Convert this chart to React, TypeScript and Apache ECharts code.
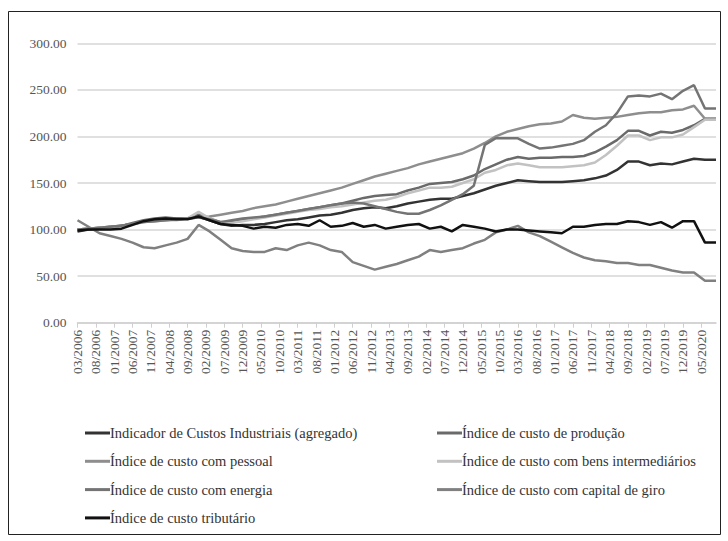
import React, { useEffect, useRef } from "react";
import * as echarts from "echarts";

const xLabels = [
  "03/2006", "08/2006", "01/2007", "06/2007", "11/2007", "04/2008", "09/2008",
  "02/2009", "07/2009", "12/2009", "05/2010", "10/2010", "03/2011", "08/2011",
  "01/2012", "06/2012", "11/2012", "04/2013", "09/2013", "02/2014", "07/2014",
  "12/2014", "05/2015", "10/2015", "03/2016", "08/2016", "01/2017", "06/2017",
  "11/2017", "04/2018", "09/2018", "02/2019", "07/2019", "12/2019", "05/2020",
];

// quarterly observations, months elapsed since 03/2006
const agregado = [98, 100, 101, 102, 104, 106, 109, 111, 112, 112, 112, 114, 110, 106, 104, 105, 105, 106, 108, 110, 111, 113, 115, 116, 118, 121, 123, 124, 123, 125, 128, 130, 132, 133, 133, 136, 139, 143, 147, 150, 153, 152, 151, 151, 151, 152, 153, 155, 158, 164, 173, 173, 169, 171, 170, 173, 176, 175, 175];
const producao = [100, 101, 102, 103, 104, 107, 110, 112, 113, 112, 112, 116, 112, 108, 108, 110, 112, 114, 116, 118, 120, 122, 124, 126, 128, 131, 134, 136, 137, 138, 142, 145, 149, 150, 151, 154, 158, 165, 170, 175, 178, 176, 177, 177, 178, 178, 179, 183, 189, 196, 206, 206, 201, 205, 204, 207, 212, 219, 219];
const pessoal = [100, 101, 102, 103, 104, 106, 108, 109, 110, 111, 112, 113, 114, 116, 118, 120, 123, 125, 127, 130, 133, 136, 139, 142, 145, 149, 153, 157, 160, 163, 166, 170, 173, 176, 179, 182, 187, 193, 200, 205, 208, 211, 213, 214, 216, 223, 220, 219, 220, 221, 223, 225, 226, 226, 228, 229, 233, 219, 219];
const intermediarios = [100, 101, 102, 102, 103, 105, 108, 110, 110, 110, 112, 119, 112, 107, 107, 109, 111, 113, 115, 117, 119, 121, 122, 124, 125, 127, 129, 131, 132, 135, 139, 142, 145, 145, 146, 150, 154, 161, 164, 169, 171, 169, 167, 167, 167, 168, 169, 172, 180, 190, 201, 201, 196, 199, 199, 202, 210, 218, 218];
const energia = [100, 101, 102, 103, 104, 106, 108, 109, 110, 111, 112, 113, 111, 108, 110, 112, 113, 114, 116, 118, 120, 122, 124, 126, 128, 129, 128, 125, 122, 119, 117, 117, 121, 126, 132, 138, 147, 191, 198, 198, 198, 192, 187, 188, 190, 192, 196, 205, 212, 225, 243, 244, 243, 246, 240, 249, 255, 230, 230];
const capitalGiro = [110, 103, 96, 93, 90, 86, 81, 80, 83, 86, 90, 105, 98, 89, 80, 77, 76, 76, 80, 78, 83, 86, 83, 78, 76, 65, 61, 57, 60, 63, 67, 71, 78, 76, 78, 80, 85, 89, 97, 100, 104, 97, 93, 87, 81, 75, 70, 67, 66, 64, 64, 62, 62, 59, 56, 54, 54, 45, 45];
const tributario = [99, 100, 100, 100, 101, 105, 109, 111, 112, 111, 111, 114, 110, 106, 105, 104, 101, 103, 102, 105, 106, 104, 110, 103, 104, 107, 103, 105, 101, 103, 105, 106, 101, 103, 98, 105, 103, 101, 98, 100, 100, 99, 98, 97, 96, 103, 103, 105, 106, 106, 109, 108, 105, 108, 102, 109, 109, 86, 86];

const seriesNames = [
  "Indicador de Custos Industriais (agregado)",
  "Índice de custo de produção",
  "Índice de custo com pessoal",
  "Índice de custo com bens intermediários",
  "Índice de custo com energia",
  "Índice de custo com capital de giro",
  "Índice de custo tributário",
];
const seriesValues = [agregado, producao, pessoal, intermediarios, energia, capitalGiro, tributario];
const seriesColors = ["#333333", "#6a6a6a", "#8e8e8e", "#c2c2c2", "#747474", "#808080", "#111111"];

const FONT = "Liberation Serif";

export default function App() {
  const ref = useRef<HTMLDivElement>(null);
  useEffect(() => {
    if (!ref.current) return;
    const chart = echarts.init(ref.current, null, { renderer: "svg" });
    const legendText = { fontFamily: FONT, fontSize: 14.5, color: "#333", lineHeight: 16, padding: [0, 0, 0, -5] };
    chart.setOption({
      animation: false,
      backgroundColor: "#fff",
      grid: { left: 77.5, right: 12, top: 43.3, bottom: 218.3, containLabel: false },
      xAxis: {
        type: "value",
        min: 0,
        max: 174,
        interval: 5,
        splitLine: { show: false },
        axisLine: { show: true, lineStyle: { color: "#cfcfcf", width: 1.5 } },
        axisTick: { show: true, length: 5, lineStyle: { color: "#cfcfcf" } },
        axisLabel: {
          rotate: 90,
          margin: 7,
          showMaxLabel: false,
          fontFamily: FONT,
          fontSize: 13.5,
          color: "#555",
          formatter: (v: number) => (v % 5 === 0 ? xLabels[v / 5] ?? "" : ""),
        },
      },
      yAxis: {
        type: "value",
        min: 0,
        max: 300,
        interval: 50,
        axisLine: { show: false },
        axisTick: { show: false },
        splitLine: { lineStyle: { color: "#d6d6d6", width: 1.5 } },
        axisLabel: {
          margin: 11,
          fontFamily: FONT,
          fontSize: 13.5,
          color: "#555",
          formatter: (v: number) => v.toFixed(2),
        },
      },
      legend: [
        {
          orient: "vertical",
          left: 85,
          top: 425,
          padding: 0,
          icon: "rect",
          itemWidth: 25,
          itemHeight: 3,
          itemGap: 12.3,
          textStyle: legendText,
          data: [seriesNames[0], seriesNames[2], seriesNames[4], seriesNames[6]],
        },
        {
          orient: "vertical",
          left: 437,
          top: 425,
          padding: 0,
          icon: "rect",
          itemWidth: 25,
          itemHeight: 3,
          itemGap: 12.3,
          textStyle: legendText,
          data: [seriesNames[1], seriesNames[3], seriesNames[5]],
        },
      ],
      graphic: [
        {
          type: "rect",
          shape: { x: 8.5, y: 11.5, width: 712, height: 523 },
          style: { fill: "none", stroke: "#222", lineWidth: 1 },
          silent: true,
        },
      ],
      series: seriesNames.map((name, i) => ({
        name,
        type: "line",
        showSymbol: false,
        symbol: "none",
        color: seriesColors[i],
        lineStyle: { width: 2.5, color: seriesColors[i] },
        data: seriesValues[i].map((v, k) => [k * 3, v]),
        z: 2 + i,
      })),
    });
    return () => chart.dispose();
  }, []);
  return (
    <div style={{ position: "fixed", left: 0, top: 0, width: 728, height: 541, background: "#fff" }}>
      <div ref={ref} style={{ width: 728, height: 541 }} />
    </div>
  );
}
